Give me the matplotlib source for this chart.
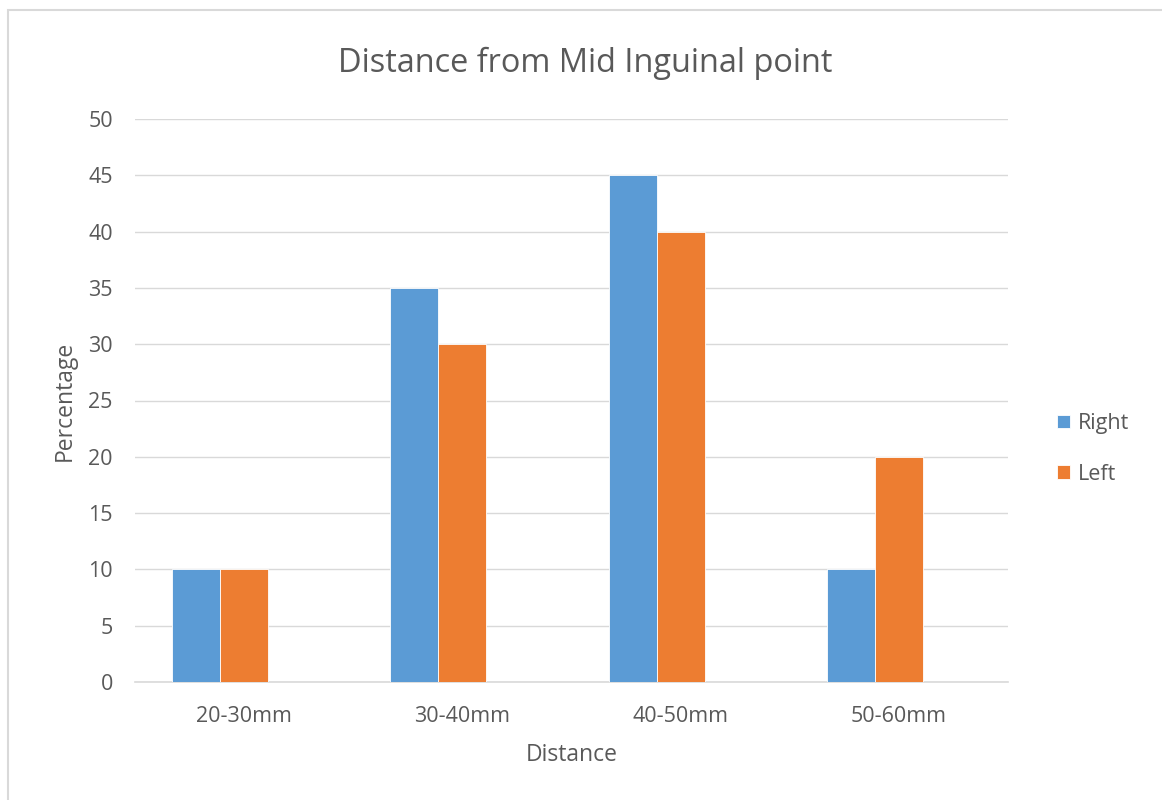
import numpy as np
import matplotlib.pyplot as plt
from matplotlib.patches import Rectangle

categories = ["20-30mm", "30-40mm", "40-50mm", "50-60mm"]
right = [10, 35, 45, 10]
left = [10, 30, 40, 20]

plt.rcParams['font.family'] = ['Open Sans', 'DejaVu Sans']

fig = plt.figure(figsize=(11.62, 8.0), dpi=100)
fig.patches.append(Rectangle((8 / 1162, -0.01), 1.02, (790 + 8) / 800, transform=fig.transFigure,
                             fill=False, edgecolor='#D9D9D9', linewidth=1.5))

ax = fig.add_axes([135 / 1162, 1 - 682 / 800, (1008 - 135) / 1162, (682 - 119) / 800])

x = np.arange(len(categories))
w = 0.22
ax.bar(x - w, right, w, color='#5B9BD5', edgecolor='white', linewidth=0.6, label='Right', zorder=3)
ax.bar(x, left, w, color='#ED7D31', edgecolor='white', linewidth=0.6, label='Left', zorder=3)

ax.set_xlim(-0.5, 3.5)
ax.set_ylim(0, 50)
ax.set_yticks(range(0, 51, 5))
ax.set_xticks(x)
ax.set_xticklabels(categories)
ax.grid(axis='y', color='#D9D9D9', linewidth=1, zorder=0)
for s in ['top', 'right', 'left']:
    ax.spines[s].set_visible(False)
ax.spines['bottom'].set_color('#D9D9D9')
ax.spines['bottom'].set_linewidth(1.2)
ax.tick_params(length=0, colors='#595959', labelsize=15.5)
ax.tick_params(axis='y', pad=16)
ax.tick_params(axis='x', pad=17)

ax.set_xlabel("Distance", fontsize=16.5, color='#595959', labelpad=12)
ax.set_ylabel("Percentage", fontsize=16.5, color='#595959', labelpad=8)
ax.set_title("Distance from Mid Inguinal point", fontsize=23.4, color='#595959', pad=34, x=0.5155)

ax.legend(loc='center left', bbox_to_anchor=(1.034, 0.414), frameon=False, fontsize=15.5,
          labelcolor='#595959', handlelength=0.6, handleheight=0.6, handletextpad=0.35,
          labelspacing=1.37)

fig.savefig("out.png", dpi=100)
